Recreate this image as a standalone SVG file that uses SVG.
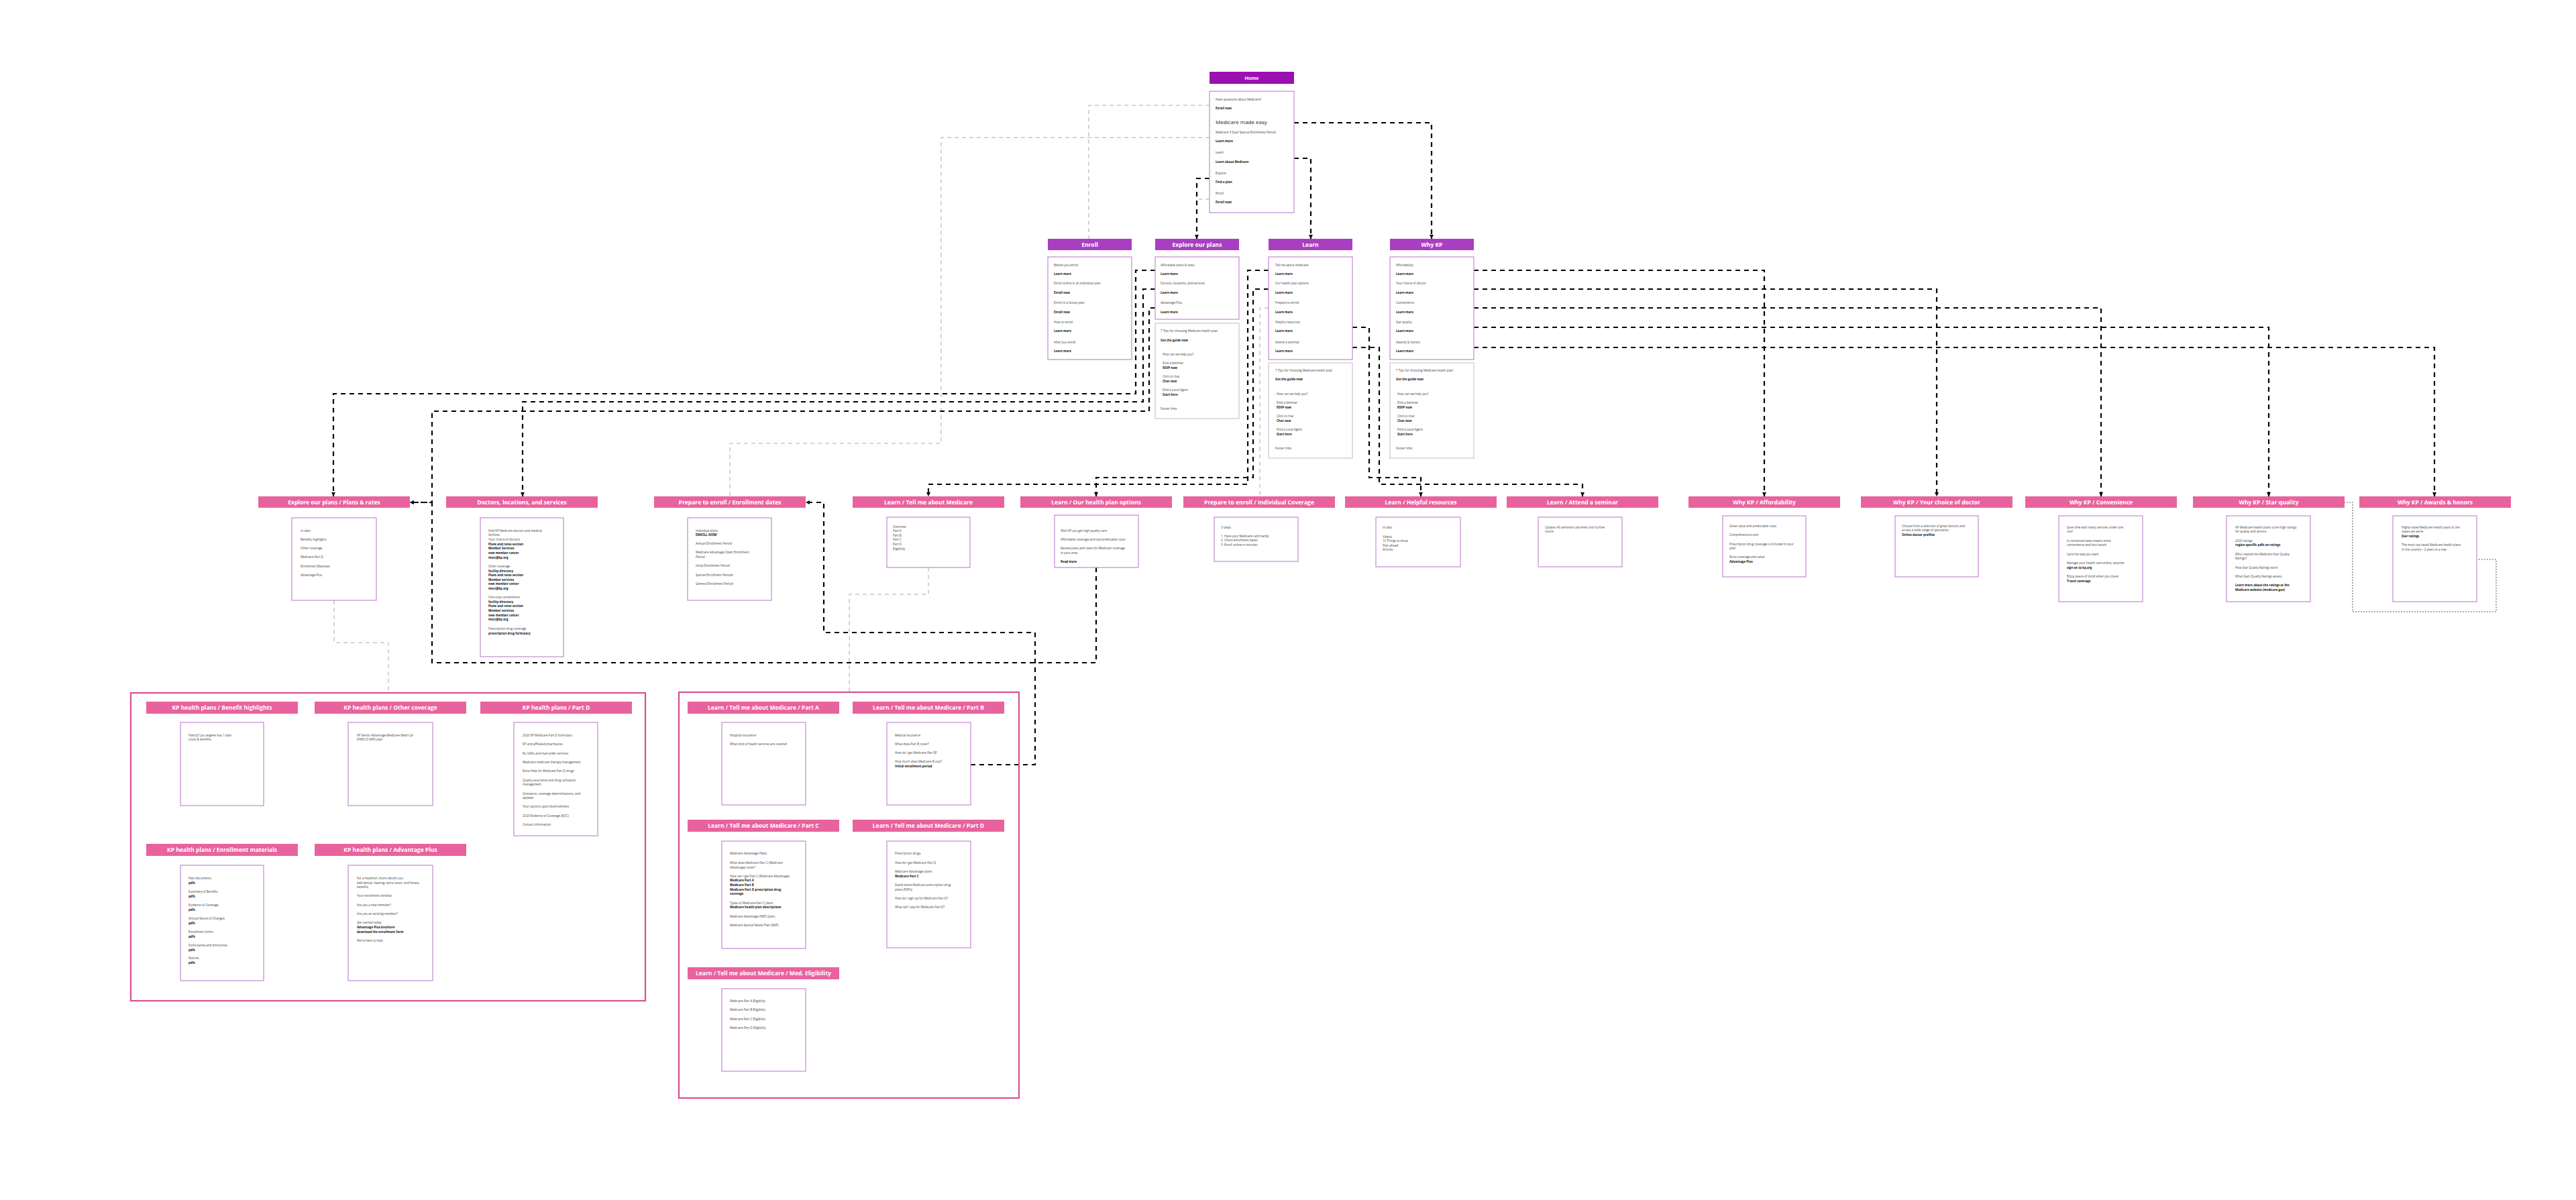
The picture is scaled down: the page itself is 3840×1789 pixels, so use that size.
<svg xmlns="http://www.w3.org/2000/svg" width="3840" height="1789" viewBox="0 0 3840 1789">
<style>
.bg{fill:#fff}
.h1{fill:#9b10b0}
.h2{fill:#a83fc1}
.h3{fill:#e8639e}
.box{fill:#fff;stroke:#c892d6;stroke-width:1.3}
.gbox{fill:#fff;stroke:#cccccc;stroke-width:1.3}
.grp{fill:none;stroke:#d9508e;stroke-width:2.2}
.t{font-family:"Open Sans","Liberation Sans",sans-serif;font-size:4.5px;fill:#444}
.b{font-weight:bold;fill:#111}
.big{font-size:8px;fill:#222}
.ht{font-family:"Open Sans","Liberation Sans",sans-serif;font-weight:bold;fill:#fff;font-size:8.5px;text-anchor:middle}
.hh{font-family:"Liberation Sans",Arial,sans-serif;font-weight:bold;fill:#fff;font-size:7.5px;text-anchor:middle}
.c{fill:none;stroke:#000;stroke-width:2.2;stroke-dasharray:7 6}
.g{fill:none;stroke:#aaaaaa;stroke-width:1;stroke-dasharray:6 5}
.d{fill:none;stroke:#555;stroke-width:1;stroke-dasharray:2 2}
</style>
<defs>
<marker id="ah" viewBox="0 0 10 10" refX="10" refY="5" markerWidth="6" markerHeight="6" markerUnits="userSpaceOnUse" orient="auto"><path d="M0,0 L10,5 L0,10z" fill="#000"/></marker>
</defs>
<rect class="bg" x="0" y="0" width="3840" height="1789"/>

<g id="connectors">
<path class="c" d="M1929,183 H2134 V356" marker-end="url(#ah)"/>
<path class="c" d="M1929,236 H1954 V356" marker-end="url(#ah)"/>
<path class="c" d="M1803,266 H1784 V356" marker-end="url(#ah)"/>
<path class="g" d="M1803,157 H1623 V356"/>
<path class="g" d="M1803,205 H1403 V661 H1088 V740"/>
<path class="g" d="M1803,297 H1787"/>
<path class="c" d="M1722,403 H1693 V587 H497 V740" marker-end="url(#ah)"/>
<path class="c" d="M1722,431 H1704 V599 H779 V740" marker-end="url(#ah)"/>
<path class="c" d="M1722,459 H1713 V613 H644 V749 H611" marker-end="url(#ah)"/>
<path class="c" d="M1891,403 H1860 V722 H1384 V740" marker-end="url(#ah)"/>
<path class="c" d="M1891,431 H1868 V712 H1634 V740" marker-end="url(#ah)"/>
<path class="g" d="M1891,459 H1878 V740"/>
<path class="c" d="M2016,488 H2041 V712 H2118 V740" marker-end="url(#ah)"/>
<path class="c" d="M2016,518 H2056 V722 H2359 V740" marker-end="url(#ah)"/>
<path class="c" d="M2197,403 H2630 V740" marker-end="url(#ah)"/>
<path class="c" d="M2197,431 H2887 V740" marker-end="url(#ah)"/>
<path class="c" d="M2197,459 H3132 V740" marker-end="url(#ah)"/>
<path class="c" d="M2197,488 H3382 V740" marker-end="url(#ah)"/>
<path class="c" d="M2197,518 H3629 V740" marker-end="url(#ah)"/>
<path class="c" d="M1634,846 V988 H644 V749 H611" marker-end="url(#ah)"/>
<path class="c" d="M1447,1140 H1543 V943 H1228 V749 H1201" marker-end="url(#ah)"/>
<path class="g" d="M1384,846 V886 H1266 V1032"/>
<path class="g" d="M498,895 V958 H579 V1033"/>
<path class="d" d="M3494,749 H3507 V912 H3721 V834 H3686"/>
</g>

<g id="home">
<rect class="h1" x="1803" y="107" width="126" height="18"/>
<text class="hh" x="1866" y="119">Home</text>
<rect class="box" x="1803" y="136" width="126" height="181"/>
<text class="t" x="1812" y="149.5">Have questions about Medicare?</text>
<text class="t b" x="1812" y="162.5">Enroll now</text>
<text class="t big" x="1812" y="185">Medicare made easy</text>
<text class="t" x="1812" y="198.5">Medicare 5-Start Special Enrollment Period</text>
<text class="t b" x="1812" y="211.5">Learn more</text>
<text class="t" x="1812" y="228.5">Learn</text>
<text class="t b" x="1812" y="242.5">Learn about Medicare</text>
<text class="t" x="1812" y="259.5">Explore</text>
<text class="t b" x="1812" y="272.5">Find a plan</text>
<text class="t" x="1812" y="289.5">Enroll</text>
<text class="t b" x="1812" y="302.5">Enroll now</text>
</g>

<g id="enroll">
<rect class="h2" x="1562" y="356" width="125" height="17"/>
<text class="ht" x="1624.5" y="367.5">Enroll</text>
<rect class="box" x="1562" y="383" width="125" height="153"/>
<text class="t" x="1571" y="396.5">Before you enroll</text>
<text class="t b" x="1571" y="409.5">Learn more</text>
<text class="t" x="1571" y="423.5">Enroll online in an individual plan</text>
<text class="t b" x="1571" y="437.5">Enroll now</text>
<text class="t" x="1571" y="452.5">Enroll in a Group plan</text>
<text class="t b" x="1571" y="466.5">Enroll now</text>
<text class="t" x="1571" y="481.5">How to enroll</text>
<text class="t b" x="1571" y="494.5">Learn more</text>
<text class="t" x="1571" y="511.5">After you enroll</text>
<text class="t b" x="1571" y="524.5">Learn more</text>
</g>

<g id="explore">
<rect class="h2" x="1722" y="356" width="125" height="17"/>
<text class="ht" x="1784.5" y="367.5">Explore our plans</text>
<rect class="box" x="1722" y="383" width="125" height="93"/>
<text class="t" x="1730" y="396.5">Affordable plans &amp; rates</text>
<text class="t b" x="1730" y="409.5">Learn more</text>
<text class="t" x="1730" y="423.5">Doctors, locations, and services</text>
<text class="t b" x="1730" y="437.5">Learn more</text>
<text class="t" x="1730" y="452.5">Advantage Plus</text>
<text class="t b" x="1730" y="466.5">Learn more</text>
<rect class="gbox" x="1722" y="482" width="125" height="142"/>
<text class="t" x="1730" y="494.5">7 Tips for choosing Medicare health plan</text>
<text class="t b" x="1730" y="508.5">Get the guide now</text>
<text class="t" x="1733" y="529.5">How can we help you?</text>
<text class="t" x="1733" y="542.5">Find a Seminar</text>
<text class="t b" x="1733" y="549.5">RSVP now</text>
<text class="t" x="1733" y="562.5">Click to chat</text>
<text class="t b" x="1733" y="569.5">Chat now</text>
<text class="t" x="1733" y="582.5">Find a Local Agent</text>
<text class="t b" x="1733" y="589.5">Start here</text>
<text class="t" x="1730" y="610.5">Footer links</text>
</g>

<g id="learn">
<rect class="h2" x="1891" y="356" width="125" height="17"/>
<text class="ht" x="1953.5" y="367.5">Learn</text>
<rect class="box" x="1891" y="383" width="125" height="153"/>
<text class="t" x="1901" y="396.5">Tell me about medicare</text>
<text class="t b" x="1901" y="409.5">Learn more</text>
<text class="t" x="1901" y="423.5">Our health plan options</text>
<text class="t b" x="1901" y="437.5">Learn more</text>
<text class="t" x="1901" y="452.5">Prepare to enroll</text>
<text class="t b" x="1901" y="466.5">Learn more</text>
<text class="t" x="1901" y="481.5">Helpful resources</text>
<text class="t b" x="1901" y="494.5">Learn more</text>
<text class="t" x="1901" y="511.5">Attend a seminar</text>
<text class="t b" x="1901" y="524.5">Learn more</text>
<rect class="gbox" x="1891" y="541" width="125" height="142"/>
<text class="t" x="1901" y="553.5">7 Tips for choosing Medicare health plan</text>
<text class="t b" x="1901" y="566.5">Get the guide now</text>
<text class="t" x="1903" y="588.5">How can we help you?</text>
<text class="t" x="1903" y="601.5">Find a Seminar</text>
<text class="t b" x="1903" y="608.5">RSVP now</text>
<text class="t" x="1903" y="621.5">Click to chat</text>
<text class="t b" x="1903" y="628.5">Chat now</text>
<text class="t" x="1903" y="641.5">Find a Local Agent</text>
<text class="t b" x="1903" y="648.5">Start here</text>
<text class="t" x="1901" y="669.5">Footer links</text>
</g>

<g id="whykp">
<rect class="h2" x="2072" y="356" width="125" height="17"/>
<text class="ht" x="2134.5" y="367.5">Why KP</text>
<rect class="box" x="2072" y="383" width="125" height="153"/>
<text class="t" x="2081" y="396.5">Affordability</text>
<text class="t b" x="2081" y="409.5">Learn more</text>
<text class="t" x="2081" y="423.5">Your choice of doctor</text>
<text class="t b" x="2081" y="437.5">Learn more</text>
<text class="t" x="2081" y="452.5">Convenience</text>
<text class="t b" x="2081" y="466.5">Learn more</text>
<text class="t" x="2081" y="481.5">Star quality</text>
<text class="t b" x="2081" y="494.5">Learn more</text>
<text class="t" x="2081" y="511.5">Awards &amp; honors</text>
<text class="t b" x="2081" y="524.5">Learn more</text>
<rect class="gbox" x="2072" y="541" width="125" height="142"/>
<text class="t" x="2081" y="553.5">7 Tips for choosing Medicare health plan</text>
<text class="t b" x="2081" y="566.5">Get the guide now</text>
<text class="t" x="2083" y="588.5">How can we help you?</text>
<text class="t" x="2083" y="601.5">Find a Seminar</text>
<text class="t b" x="2083" y="608.5">RSVP now</text>
<text class="t" x="2083" y="621.5">Click to chat</text>
<text class="t b" x="2083" y="628.5">Chat now</text>
<text class="t" x="2083" y="641.5">Find a Local Agent</text>
<text class="t b" x="2083" y="648.5">Start here</text>
<text class="t" x="2081" y="669.5">Footer links</text>
</g>

<g id="plans-rates">
<rect class="h3" x="385" y="740" width="226" height="17"/>
<text class="ht" x="498" y="751.5">Explore our plans / Plans &amp; rates</text>
<rect class="box" x="435" y="772" width="126" height="123"/>
<text class="t" x="448" y="792.5">in tabs:</text>
<text class="t" x="448" y="805.5">Benefits highlights</text>
<text class="t" x="448" y="818.5">Other coverage</text>
<text class="t" x="448" y="831.5">Medicare Part D</text>
<text class="t" x="448" y="845.5">Enrollment Materials</text>
<text class="t" x="448" y="858.5">Advantage Plus</text>
</g>

<g id="doctors">
<rect class="h3" x="665" y="740" width="226" height="17"/>
<text class="ht" x="778" y="751.5">Doctors, locations, and services</text>
<rect class="box" x="716" y="772" width="124" height="207"/>
<text class="t" x="728" y="792.5">Find KP Medicare doctors and medical</text>
<text class="t" x="728" y="799">facilities</text>
<text class="t" x="728" y="805.5">Your choice of doctors</text>
<text class="t b" x="728" y="812.5">Plans and rates section</text>
<text class="t b" x="728" y="819">Member Services</text>
<text class="t b" x="728" y="825.5">new member center</text>
<text class="t b" x="728" y="832.5">mscc@kp.org</text>
<text class="t" x="728" y="845.5">Other coverage</text>
<text class="t b" x="728" y="852.5">facility directory</text>
<text class="t b" x="728" y="859">Plans and rates section</text>
<text class="t b" x="728" y="865.5">Member services</text>
<text class="t b" x="728" y="872">new member center</text>
<text class="t b" x="728" y="878.5">mscc@kp.org</text>
<text class="t" x="728" y="891.5">One-stop convenience</text>
<text class="t b" x="728" y="898.5">facility directory</text>
<text class="t b" x="728" y="905">Plans and rates section</text>
<text class="t b" x="728" y="911.5">Member services</text>
<text class="t b" x="728" y="918.5">new member center</text>
<text class="t b" x="728" y="925">mscc@kp.org</text>
<text class="t" x="728" y="938.5">Prescription drug coverage</text>
<text class="t b" x="728" y="945.5">prescription drug formulary</text>
</g>

<g id="enrollment-dates">
<rect class="h3" x="975" y="740" width="226" height="17"/>
<text class="ht" x="1088" y="751.5">Prepare to enroll / Enrollment dates</text>
<rect class="box" x="1025" y="772" width="125" height="123"/>
<text class="t" x="1037" y="792.5">Individual plans</text>
<text class="t b" x="1037" y="799">ENROLL NOW!</text>
<text class="t" x="1037" y="811.5">Annual Enrollment Period</text>
<text class="t" x="1037" y="824.5">Medicare Advantage Open Enrollment</text>
<text class="t" x="1037" y="831.5">Period</text>
<text class="t" x="1037" y="844.5">Initial Enrollment Period</text>
<text class="t" x="1037" y="858.5">Special Enrollment Periods</text>
<text class="t" x="1037" y="871.5">General Enrollment Period</text>
</g>

<g id="tell-me">
<rect class="h3" x="1271" y="740" width="226" height="17"/>
<text class="ht" x="1384" y="751.5">Learn / Tell me about Medicare</text>
<rect class="box" x="1322" y="771" width="124" height="75"/>
<text class="t" x="1331" y="786.5">Overview</text>
<text class="t" x="1331" y="793">Part A</text>
<text class="t" x="1331" y="799.5">Part B</text>
<text class="t" x="1331" y="806">Part C</text>
<text class="t" x="1331" y="812.5">Part D</text>
<text class="t" x="1331" y="819.5">Eligibility</text>
</g>

<g id="plan-options">
<rect class="h3" x="1521" y="740" width="226" height="17"/>
<text class="ht" x="1634" y="751.5">Learn / Our health plan options</text>
<rect class="box" x="1572" y="768" width="125" height="78"/>
<text class="t" x="1581" y="792.5">With KP you get high-quality care</text>
<text class="t" x="1581" y="805.5">Affordable coverage and low predictable costs</text>
<text class="t" x="1581" y="818.5">Review plans and rates for Medicare coverage</text>
<text class="t" x="1581" y="825.5">in your area</text>
<text class="t b" x="1581" y="838.5">Read more</text>
</g>

<g id="individual-coverage">
<rect class="h3" x="1764" y="740" width="226" height="17"/>
<text class="ht" x="1877" y="751.5">Prepare to enroll / Individual Coverage</text>
<rect class="box" x="1810" y="771" width="125" height="66"/>
<text class="t" x="1820" y="787.5">3 steps</text>
<text class="t" x="1820" y="800.5">1. Have your Medicare card handy</text>
<text class="t" x="1820" y="807">2. Check enrollment dates</text>
<text class="t" x="1820" y="813.5">3. Enroll online in minutes</text>
</g>

<g id="helpful-resources">
<rect class="h3" x="2005" y="740" width="226" height="17"/>
<text class="ht" x="2118" y="751.5">Learn / Helpful resources</text>
<rect class="box" x="2051" y="771" width="126" height="74"/>
<text class="t" x="2061" y="787.5">in tabs</text>
<text class="t" x="2061" y="801.5">Videos</text>
<text class="t" x="2061" y="808">10 Things to know</text>
<text class="t" x="2061" y="814.5">Plan ahead</text>
<text class="t" x="2061" y="821">Articles</text>
</g>

<g id="attend-seminar">
<rect class="h3" x="2246" y="740" width="226" height="17"/>
<text class="ht" x="2359" y="751.5">Learn / Attend a seminar</text>
<rect class="box" x="2293" y="771" width="125" height="74"/>
<text class="t" x="2303" y="787.5">Update: All seminars canceled until further</text>
<text class="t" x="2303" y="794">notice</text>
</g>

<g id="affordability">
<rect class="h3" x="2517" y="740" width="226" height="17"/>
<text class="ht" x="2630" y="751.5">Why KP / Affordability</text>
<rect class="box" x="2568" y="769" width="124" height="91"/>
<text class="t" x="2578" y="785.5">Great value and predictable costs</text>
<text class="t" x="2578" y="798.5">Comprehensive care</text>
<text class="t" x="2578" y="812.5">Prescription drug coverage is included in your</text>
<text class="t" x="2578" y="818.5">plan</text>
<text class="t" x="2578" y="831.5">Extra coverage and value</text>
<text class="t b" x="2578" y="838.5">Advantage Plus</text>
</g>

<g id="choice-doctor">
<rect class="h3" x="2774" y="740" width="226" height="17"/>
<text class="ht" x="2887" y="751.5">Why KP / Your choice of doctor</text>
<rect class="box" x="2825" y="769" width="124" height="91"/>
<text class="t" x="2835" y="785.5">Choose from a selection of great doctors and</text>
<text class="t" x="2835" y="792">access a wide range of specialists</text>
<text class="t b" x="2835" y="798.5">Online doctor profiles</text>
</g>

<g id="convenience">
<rect class="h3" x="3019" y="740" width="226" height="17"/>
<text class="ht" x="3132" y="751.5">Why KP / Convenience</text>
<rect class="box" x="3069" y="769" width="125" height="128"/>
<text class="t" x="3081" y="787.5">Save time with many services under one</text>
<text class="t" x="3081" y="793.5">roof</text>
<text class="t" x="3081" y="807.5">A connected team means more</text>
<text class="t" x="3081" y="813.5">convenience and less hassle</text>
<text class="t" x="3081" y="827.5">Care the way you want</text>
<text class="t" x="3081" y="840.5">Manage your health care online, anytime</text>
<text class="t b" x="3081" y="847.5">sign on to kp.org</text>
<text class="t" x="3081" y="860.5">Enjoy peace of mind when you travel</text>
<text class="t b" x="3081" y="867.5">Travel coverage</text>
</g>

<g id="star-quality">
<rect class="h3" x="3269" y="740" width="226" height="17"/>
<text class="ht" x="3382" y="751.5">Why KP / Star quality</text>
<rect class="box" x="3319" y="769" width="125" height="128"/>
<text class="t" x="3332" y="787.5">KP Medicare health plans score high ratings</text>
<text class="t" x="3332" y="793.5">for quality and service</text>
<text class="t" x="3332" y="807.5">2020 ratings</text>
<text class="t b" x="3332" y="813.5">region specific pdfs on ratings</text>
<text class="t" x="3332" y="827.5">Who created the Medicare Star Quality</text>
<text class="t" x="3332" y="833.5">Ratings?</text>
<text class="t" x="3332" y="847.5">How Star Quality Ratings work</text>
<text class="t" x="3332" y="860.5">What Start Quality Ratings assess</text>
<text class="t b" x="3332" y="873.5">Learn more about the ratings at the</text>
<text class="t b" x="3332" y="880.5">Medicare website (medicare.gov)</text>
</g>

<g id="awards">
<rect class="h3" x="3517" y="740" width="226" height="17"/>
<text class="ht" x="3630" y="751.5">Why KP / Awards &amp; honors</text>
<rect class="box" x="3567" y="769" width="125" height="128"/>
<text class="t" x="3580" y="787.5">Highly-rated Medicare health plans in the</text>
<text class="t" x="3580" y="793.5">states we serve</text>
<text class="t b" x="3580" y="800.5">Star ratings</text>
<text class="t" x="3580" y="813.5">The most top-rated Medicare health plans</text>
<text class="t" x="3580" y="820.5">in the country – 2 years in a row</text>
</g>

<g id="kp-health-plans-group">
<rect class="grp" x="195" y="1033" width="767" height="459"/>
</g>

<g id="benefit-highlights">
<rect class="h3" x="218" y="1046" width="226" height="18"/>
<text class="ht" x="331" y="1058">KP health plans / Benefit highlights</text>
<rect class="box" x="269" y="1077" width="124" height="124"/>
<text class="t" x="281" y="1097.5">Plan(s)? Los angeles has 1 plan</text>
<text class="t" x="281" y="1104">Costs &amp; benefits</text>
</g>

<g id="other-coverage">
<rect class="h3" x="469" y="1046" width="226" height="18"/>
<text class="ht" x="582" y="1058">KP health plans / Other coverage</text>
<rect class="box" x="519" y="1077" width="126" height="124"/>
<text class="t" x="532" y="1097.5">KP Senior Advantage Medicare Medi-Cal</text>
<text class="t" x="532" y="1104">(HMO D-SNP) plan</text>
</g>

<g id="part-d-plans">
<rect class="h3" x="716" y="1046" width="226" height="18"/>
<text class="ht" x="829" y="1058">KP health plans / Part D</text>
<rect class="box" x="766" y="1077" width="125" height="169"/>
<text class="t" x="779" y="1097.5">2020 KP Medicare Part D formulary</text>
<text class="t" x="779" y="1110.5">KP and affiliated pharmacies</text>
<text class="t" x="779" y="1124.5">Rx refills and mail-order services</text>
<text class="t" x="779" y="1137.5">Medicare medicare therapy management</text>
<text class="t" x="779" y="1150.5">Extra Help for Medicare Part D drugs</text>
<text class="t" x="779" y="1164.5">Quality assurance and drug utilization</text>
<text class="t" x="779" y="1170.5">management</text>
<text class="t" x="779" y="1184.5">Grievance, coverage determinations, and</text>
<text class="t" x="779" y="1190.5">appeals</text>
<text class="t" x="779" y="1203.5">Your options upon disenrollment</text>
<text class="t" x="779" y="1217.5">2020 Evidence of Coverage (EOC)</text>
<text class="t" x="779" y="1230.5">Contact information</text>
</g>

<g id="enrollment-materials">
<rect class="h3" x="218" y="1258" width="226" height="18"/>
<text class="ht" x="331" y="1270">KP health plans / Enrollment materials</text>
<rect class="box" x="269" y="1290" width="124" height="172"/>
<text class="t" x="281" y="1310.5">Plan documents</text>
<text class="t b" x="281" y="1317.5">pdfs</text>
<text class="t" x="281" y="1330.5">Summary of Benefits</text>
<text class="t b" x="281" y="1337.5">pdfs</text>
<text class="t" x="281" y="1350.5">Evidence of Coverage</text>
<text class="t b" x="281" y="1357.5">pdfs</text>
<text class="t" x="281" y="1370.5">Annual Notice of Changes</text>
<text class="t b" x="281" y="1377.5">pdfs</text>
<text class="t" x="281" y="1390.5">Enrollment forms</text>
<text class="t b" x="281" y="1397.5">pdfs</text>
<text class="t" x="281" y="1410.5">Formularies and directories</text>
<text class="t b" x="281" y="1417.5">pdfs</text>
<text class="t" x="281" y="1429.5">Notices</text>
<text class="t b" x="281" y="1436.5">pdfs</text>
</g>

<g id="advantage-plus">
<rect class="h3" x="469" y="1258" width="226" height="18"/>
<text class="ht" x="582" y="1270">KP health plans / Advantage Plus</text>
<rect class="box" x="519" y="1290" width="126" height="172"/>
<text class="t" x="532" y="1310.5">For a healthier, more vibrant you</text>
<text class="t" x="532" y="1317.5">Add dental, hearing, extra vision, and fitness</text>
<text class="t" x="532" y="1323.5">benefits</text>
<text class="t" x="532" y="1336.5">Your enrollment window</text>
<text class="t" x="532" y="1350.5">Are you a new member?</text>
<text class="t" x="532" y="1363.5">Are you an existing member?</text>
<text class="t" x="532" y="1376.5">Get started today</text>
<text class="t b" x="532" y="1383.5">Advantage Plus brochure</text>
<text class="t b" x="532" y="1390.5">download the enrollment form</text>
<text class="t" x="532" y="1403.5">We're here to help</text>
</g>

<g id="medicare-parts-group">
<rect class="grp" x="1012" y="1032" width="507" height="605"/>
</g>

<g id="part-a">
<rect class="h3" x="1025" y="1046" width="226" height="18"/>
<text class="ht" x="1138" y="1058">Learn / Tell me about Medicare / Part A</text>
<rect class="box" x="1076" y="1077" width="125" height="123"/>
<text class="t" x="1088" y="1097.5">Hospital insurance</text>
<text class="t" x="1088" y="1110.5">What kind of health services are covered</text>
</g>

<g id="part-b">
<rect class="h3" x="1271" y="1046" width="226" height="18"/>
<text class="ht" x="1384" y="1058">Learn / Tell me about Medicare / Part B</text>
<rect class="box" x="1322" y="1077" width="125" height="123"/>
<text class="t" x="1334" y="1097.5">Medical insurance</text>
<text class="t" x="1334" y="1110.5">What does Part B cover?</text>
<text class="t" x="1334" y="1123.5">How do I get Medicare Part B?</text>
<text class="t" x="1334" y="1136.5">How much does Medicare B cost?</text>
<text class="t b" x="1334" y="1143.5">Initial enrollment period</text>
</g>

<g id="part-c">
<rect class="h3" x="1025" y="1222" width="226" height="18"/>
<text class="ht" x="1138" y="1234">Learn / Tell me about Medicare / Part C</text>
<rect class="box" x="1076" y="1254" width="125" height="160"/>
<text class="t" x="1088" y="1273.5">Medicare Advantage Plans</text>
<text class="t" x="1088" y="1287.5">What does Medicare Part C (Medicare</text>
<text class="t" x="1088" y="1294.5">Advantage) cover?</text>
<text class="t" x="1088" y="1307.5">How can I get Part C (Medicare Advantage)</text>
<text class="t b" x="1088" y="1313.5">Medicare Part A</text>
<text class="t b" x="1088" y="1320.5">Medicare Part B</text>
<text class="t b" x="1088" y="1327.5">Medicare Part D prescription drug</text>
<text class="t b" x="1088" y="1333.5">coverage</text>
<text class="t" x="1088" y="1347.5">Types of Medicare Part C plans</text>
<text class="t b" x="1088" y="1353.5">Medicare health plan descriptions</text>
<text class="t" x="1088" y="1367.5">Medicare Advantage HMO plans</text>
<text class="t" x="1088" y="1380.5">Medicare Special Needs Plan (SNP)</text>
</g>

<g id="part-d">
<rect class="h3" x="1271" y="1222" width="226" height="18"/>
<text class="ht" x="1384" y="1234">Learn / Tell me about Medicare / Part D</text>
<rect class="box" x="1322" y="1254" width="125" height="159"/>
<text class="t" x="1334" y="1273.5">Prescription drugs</text>
<text class="t" x="1334" y="1287.5">How do I get Medicare Part D</text>
<text class="t" x="1334" y="1300.5">Medicare Advantage plans</text>
<text class="t b" x="1334" y="1307.5">Medicare Part C</text>
<text class="t" x="1334" y="1320.5">Stand-alone Medicare prescription drug</text>
<text class="t" x="1334" y="1327.5">plans (PDPs)</text>
<text class="t" x="1334" y="1340.5">How do I sign up for Medicare Part D?</text>
<text class="t" x="1334" y="1353.5">What will I pay for Medicare Part D?</text>
</g>

<g id="med-eligibility">
<rect class="h3" x="1025" y="1442" width="226" height="18"/>
<text class="ht" x="1138" y="1454">Learn / Tell me about Medicare / Med. Eligibility</text>
<rect class="box" x="1076" y="1474" width="125" height="123"/>
<text class="t" x="1088" y="1493.5">Medicare Part A Eligibility</text>
<text class="t" x="1088" y="1506.5">Medicare Part B Eligibility</text>
<text class="t" x="1088" y="1520.5">Medicare Part C Eligibility</text>
<text class="t" x="1088" y="1533.5">Medicare Part D Eligibility</text>
</g>
</svg>
